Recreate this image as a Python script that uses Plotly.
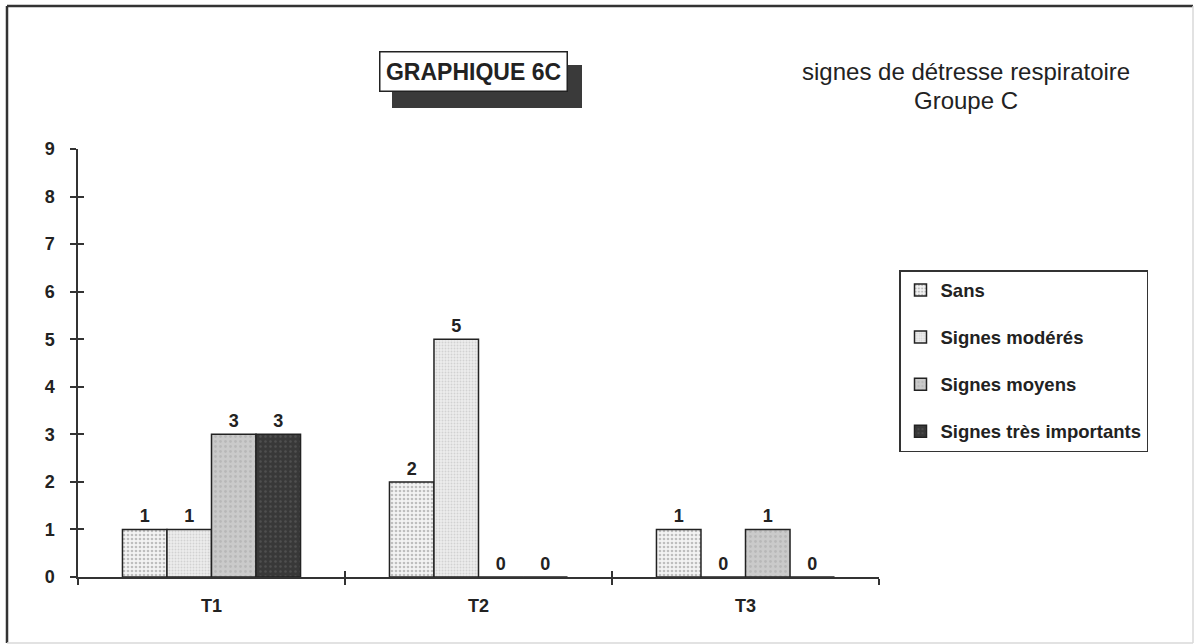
import plotly.graph_objects as go

categories = ["T1", "T2", "T3"]
series_names = ["Sans", "Signes modérés", "Signes moyens", "Signes très importants"]
sans = [1, 2, 1]
moderes = [1, 5, 0]
moyens = [3, 0, 1]
tres_importants = [3, 0, 0]
y_ticks = list(range(0, 10))

title_text = "GRAPHIQUE 6C"
subtitle_1 = "signes de détresse respiratoire"
subtitle_2 = "Groupe C"

W, H = 1194, 644
PL, PR, PT, PB = 78, 879, 149, 577  # plot area in pixels


def px(x):
    return (x - PL) / (PR - PL)


def py(y):
    return (PB - y) / (PB - PT)


FONT = "Liberation Sans, Arial, sans-serif"
INK = "#222222"

styles = [
    dict(bgcolor="#f3f3f3", fgcolor="#8a8a8a", shape=".", size=4, solidity=0.35),
    dict(bgcolor="#ececec", fgcolor="#b8b8b8", shape=".", size=3, solidity=0.3),
    dict(bgcolor="#cacaca", fgcolor="#a6a6a6", shape=".", size=5, solidity=0.25),
    dict(bgcolor="#383838", fgcolor="#666666", shape=".", size=5, solidity=0.2),
]

fig = go.Figure()
for i, (name, vals) in enumerate(zip(series_names, [sans, moderes, moyens, tres_importants])):
    st = styles[i]
    fig.add_trace(go.Bar(
        x=categories, y=vals, name=name, legendgroup=name,
        text=["<b>%d</b>" % v for v in vals], textposition="outside",
        textfont=dict(family=FONT, size=18, color=INK),
        cliponaxis=False,
        marker=dict(color=st["bgcolor"], line=dict(color=INK, width=1.5),
                    pattern=dict(shape=st["shape"], fgcolor=st["fgcolor"], bgcolor=st["bgcolor"],
                                 size=st["size"], solidity=st["solidity"], fillmode="overlay")),
    ))

# invisible helper trace for the inner halves of the crossing ticks
fig.add_trace(go.Scatter(x=categories, y=[0, 0, 0], xaxis="x2", yaxis="y2", mode="markers",
                         marker=dict(opacity=0), showlegend=False, hoverinfo="skip"))

fig.update_layout(
    width=W, height=H,
    margin=dict(l=PL, r=W - PR, t=PT, b=H - PB, autoexpand=False),
    paper_bgcolor="white", plot_bgcolor="white",
    font=dict(family=FONT, size=18, color=INK),
    barmode="group", bargap=0.333, bargroupgap=0,
    showlegend=True,
    legend=dict(x=px(899), y=py(270), xanchor="left", yanchor="top",
                bordercolor="#333333", borderwidth=1.5, bgcolor="white",
                font=dict(family=FONT, size=18.5, color=INK, weight="bold"),
                tracegroupgap=20, traceorder="grouped"),
    xaxis=dict(type="category", range=[-0.5, 2.5], tickson="boundaries",
               showline=True, linecolor="#333333", linewidth=1.5,
               ticks="outside", ticklen=6, tickcolor="#333333", tickwidth=1.5,
               showgrid=False, ticklabelstandoff=12,
               tickfont=dict(family=FONT, size=18, color=INK, weight="bold")),
    yaxis=dict(range=[0, 9], tickvals=y_ticks, showline=True, linecolor="#333333", linewidth=1.5,
               ticks="outside", ticklen=6, tickcolor="#333333", tickwidth=1.5,
               showgrid=False, zeroline=False, ticklabelstandoff=12,
               tickfont=dict(family=FONT, size=18, color=INK, weight="bold")),
    xaxis2=dict(type="category", overlaying="x", anchor="y2", range=[-0.5, 2.5], tickson="boundaries",
                ticks="inside", ticklen=6, tickcolor="#333333", tickwidth=1.5,
                showticklabels=False, showline=False, showgrid=False),
    yaxis2=dict(overlaying="y", anchor="x2", side="left", range=[0, 9], tickvals=y_ticks,
                ticks="inside", ticklen=6, tickcolor="#333333", tickwidth=1.5,
                showticklabels=False, showline=False, showgrid=False, zeroline=False),
)

shapes = [
    # title shadow
    dict(type="rect", xref="paper", yref="paper", x0=px(392), x1=px(582), y0=py(65), y1=py(108),
         fillcolor="#3a3a3a", line=dict(width=0), layer="above"),
    # outer frame
    dict(type="line", xref="paper", yref="paper", x0=px(7), x1=px(7), y0=py(6), y1=py(643),
         line=dict(color="#333333", width=2.5)),
    dict(type="line", xref="paper", yref="paper", x0=px(7), x1=px(1193), y0=py(6), y1=py(6),
         line=dict(color="#333333", width=2.5)),
    dict(type="line", xref="paper", yref="paper", x0=px(1193), x1=px(1193), y0=py(6), y1=py(643),
         line=dict(color="#d8d8d8", width=1.5)),
    dict(type="line", xref="paper", yref="paper", x0=px(7), x1=px(1193), y0=py(643), y1=py(643),
         line=dict(color="#d8d8d8", width=1.5)),
]
fig.update_layout(shapes=shapes)

fig.add_annotation(xref="paper", yref="paper", x=px(473), y=py(71.5), xanchor="center", yanchor="middle",
                   text="<b>" + title_text + "</b>", showarrow=False,
                   font=dict(family=FONT, size=23, color=INK),
                   bgcolor="white", bordercolor="#222222", borderwidth=1.5,
                   width=184, height=36, borderpad=1)
fig.add_annotation(xref="paper", yref="paper", x=px(965.5), y=py(72), xanchor="center", yanchor="middle",
                   text=subtitle_1, showarrow=False, font=dict(family=FONT, size=24, color=INK))
fig.add_annotation(xref="paper", yref="paper", x=px(965.5), y=py(100), xanchor="center", yanchor="middle",
                   text=subtitle_2, showarrow=False, font=dict(family=FONT, size=24, color=INK))

fig.write_html("out.html")
